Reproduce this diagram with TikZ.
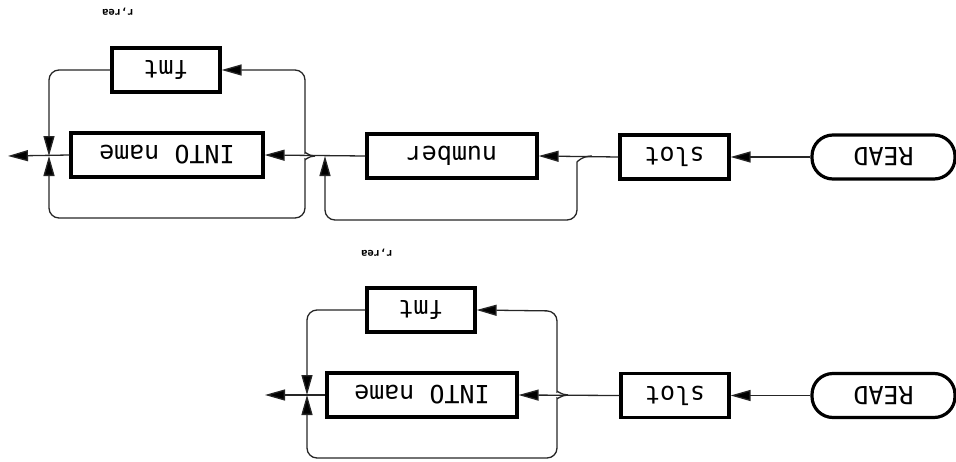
\documentclass[tikz,border=0pt]{standalone}
\usepackage{fontspec}
\usepackage{graphicx}
\setmonofont{DejaVu Sans Mono}
\usetikzlibrary{arrows.meta}
\newcommand{\flip}[1]{\rotatebox{180}{#1}}
\tikzset{
  boxstyle/.style={draw, line width=3.2pt, minimum height=44pt, inner sep=0pt,
    font=\ttfamily\fontsize{25}{25}\selectfont},
  termstyle/.style={boxstyle, rounded corners=21pt},
  conn/.style={draw=black!85, line width=1.3pt, rounded corners=10pt},
  tip/.style={-{Triangle[length=20pt,width=11pt,fill=black]}},
  tag/.style={font=\ttfamily\bfseries\fontsize{10.5}{10.5}\selectfont, inner sep=0pt}
}
\begin{document}
\begin{tikzpicture}[x=1pt,y=-1pt]
\useasboundingbox (0,0) rectangle (956,461);

% ---------- upper syntax diagram ----------
\node[tag] (t1) at (118,12) {\flip{r,rea}};
\node[termstyle, minimum width=143pt] (read1) at (883.5,157) {\flip{READ}};
\node[boxstyle, minimum width=109pt] (slot1) at (674.5,157) {\flip{slot}};
\node[boxstyle, minimum width=170pt] (num1) at (452,156) {\flip{number}};
\node[boxstyle, minimum width=192pt] (into1) at (167,155) {\flip{INTO name}};
\node[boxstyle, minimum width=108pt] (fmt1) at (166,70) {\flip{fmt}};

\coordinate (by1) at (592,156);
\coordinate (br1) at (315,156);
\coordinate (join1) at (325,156);
\coordinate (merge1) at (49,156);
\coordinate (out1) at (8,156);

\draw[conn, tip] (read1.west) -- (slot1.east);
\draw[conn, tip] (slot1.west) -- (num1.east);
\draw[conn, tip] (num1.west) -- (into1.east);
\draw[conn, tip] (into1.west) -- (out1);
% bypass around number
\draw[conn, tip] (by1) .. controls (582,156) and (577,162) .. (577,172)
  -- (577,220) -- (join1 |- 0,220) -- (join1);
% optional fmt loop
\draw[conn, tip] (br1) .. controls (308,156) and (305,151) .. (305,143)
  -- (305,70) -- (fmt1.east);
\draw[conn, tip] (fmt1.west) -- (merge1 |- fmt1.west) -- (merge1);
% bypass around INTO name
\draw[conn, tip] (br1) .. controls (308,156) and (305,161) .. (305,169)
  -- (305,218) -- (merge1 |- 0,218) -- (merge1);

% ---------- lower syntax diagram ----------
\node[tag] (t2) at (377,253) {\flip{r,rea}};
\node[termstyle, minimum width=143pt] (read2) at (883.5,395.5) {\flip{READ}};
\node[boxstyle, minimum width=108pt] (slot2) at (675,395.5) {\flip{slot}};
\node[boxstyle, minimum width=190pt] (into2) at (422,395) {\flip{INTO name}};
\node[boxstyle, minimum width=108pt] (fmt2) at (421,310) {\flip{fmt}};

\coordinate (br2) at (568,395);
\coordinate (merge2) at (307,395);
\coordinate (out2) at (265,395);

\draw[conn, tip] (read2.west) -- (slot2.east);
\draw[conn, tip] (slot2.west) -- (into2.east);
\draw[conn, tip] (into2.west) -- (out2);
% optional fmt loop
\draw[conn, tip] (br2) .. controls (561,395) and (557,390) .. (557,382)
  -- (557,311) -- (fmt2.east);
\draw[conn, tip] (fmt2.west) -- (merge2 |- fmt2.west) -- (merge2);
% bypass around INTO name
\draw[conn, tip] (br2) .. controls (561,395) and (557,400) .. (557,408)
  -- (557,458) -- (merge2 |- 0,458) -- (merge2);
\end{tikzpicture}
\end{document}
